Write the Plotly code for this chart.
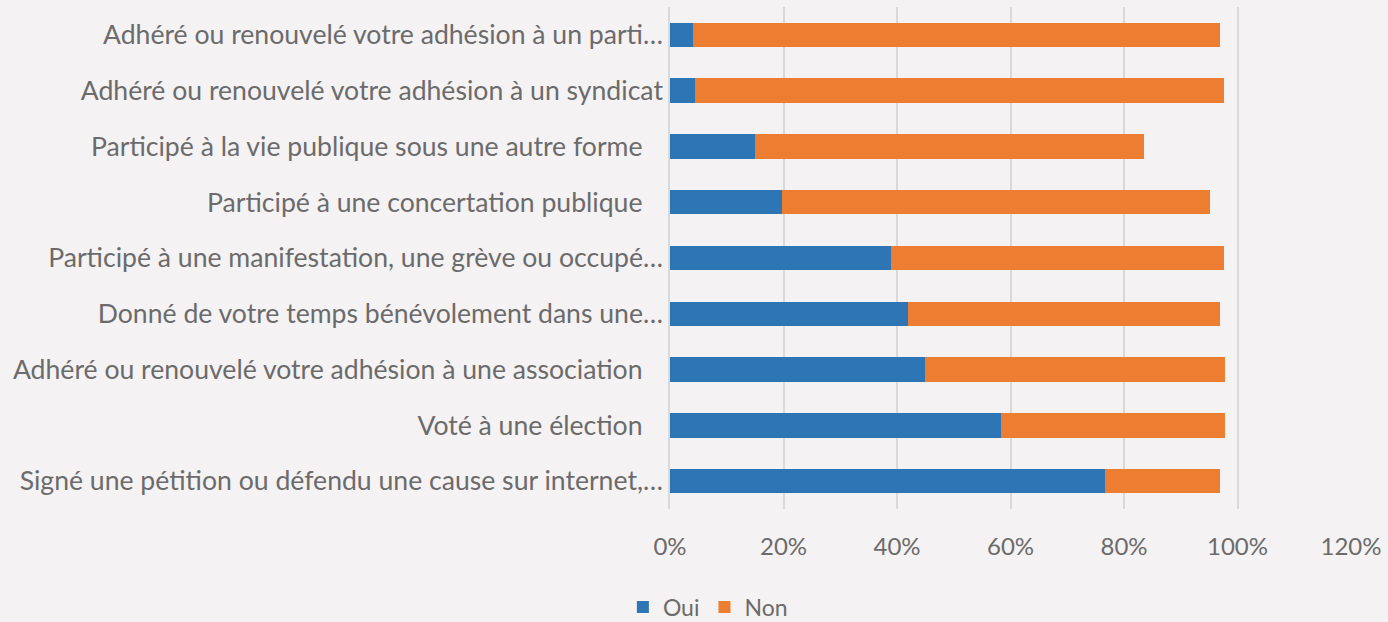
import plotly.graph_objects as go

categories = [
    "Adhéré ou renouvelé votre adhésion à un parti…",
    "Adhéré ou renouvelé votre adhésion à un syndicat",
    "Participé à la vie publique sous une autre forme\u00a0\u00a0\u00a0",
    "Participé à une concertation publique\u00a0\u00a0\u00a0",
    "Participé à une manifestation, une grève ou occupé…",
    "Donné de votre temps bénévolement dans une…",
    "Adhéré ou renouvelé votre adhésion à une association\u00a0\u00a0\u00a0",
    "Voté à une élection\u00a0\u00a0\u00a0",
    "Signé une pétition ou défendu une cause sur internet,…",
]
oui = [0.040, 0.044, 0.150, 0.198, 0.389, 0.419, 0.449, 0.583, 0.767]
non = [0.930, 0.932, 0.685, 0.754, 0.587, 0.551, 0.529, 0.395, 0.203]
x_ticks = [0, 0.2, 0.4, 0.6, 0.8, 1.0, 1.2]

FONT = "Lato, Liberation Sans, sans-serif"
GREY = "#6b6b6b"

fig = go.Figure()
fig.add_trace(go.Bar(y=categories, x=oui, name="Oui", orientation="h",
                     marker=dict(color="#2e75b6", line=dict(width=0))))
fig.add_trace(go.Bar(y=categories, x=non, name="Non", orientation="h",
                     marker=dict(color="#ed7d31", line=dict(width=0))))

fig.update_layout(
    width=1388, height=622,
    barmode="stack", bargap=0.56,
    paper_bgcolor="#f5f2f3", plot_bgcolor="#f5f2f3",
    margin=dict(l=670, r=37, t=7, b=113),
    font=dict(family=FONT, size=22, color=GREY),
    xaxis=dict(range=[0, 1.2], tickvals=x_ticks, tickformat=".0%",
               showgrid=True, gridcolor="#d9d9d9", gridwidth=1.5,
               zeroline=False, showline=False, ticks="",
               ticklabelstandoff=21, fixedrange=True,
               tickfont=dict(size=24)),
    yaxis=dict(autorange="reversed", showline=True, linecolor="#d9d9d9",
               linewidth=1.5, ticks="", ticklabelstandoff=0, showgrid=False,
               tickfont=dict(size=26.6)),
    legend=dict(orientation="h", xref="container", yref="container",
                x=0.51, y=0.024, xanchor="center", yanchor="middle",
                font=dict(size=23, color=GREY), itemwidth=30,
                traceorder="normal"),
    showlegend=True,
)

fig.write_html("out.html", config={"displayModeBar": False},
               post_script="document.body.style.margin='0';document.body.style.overflow='hidden';")
